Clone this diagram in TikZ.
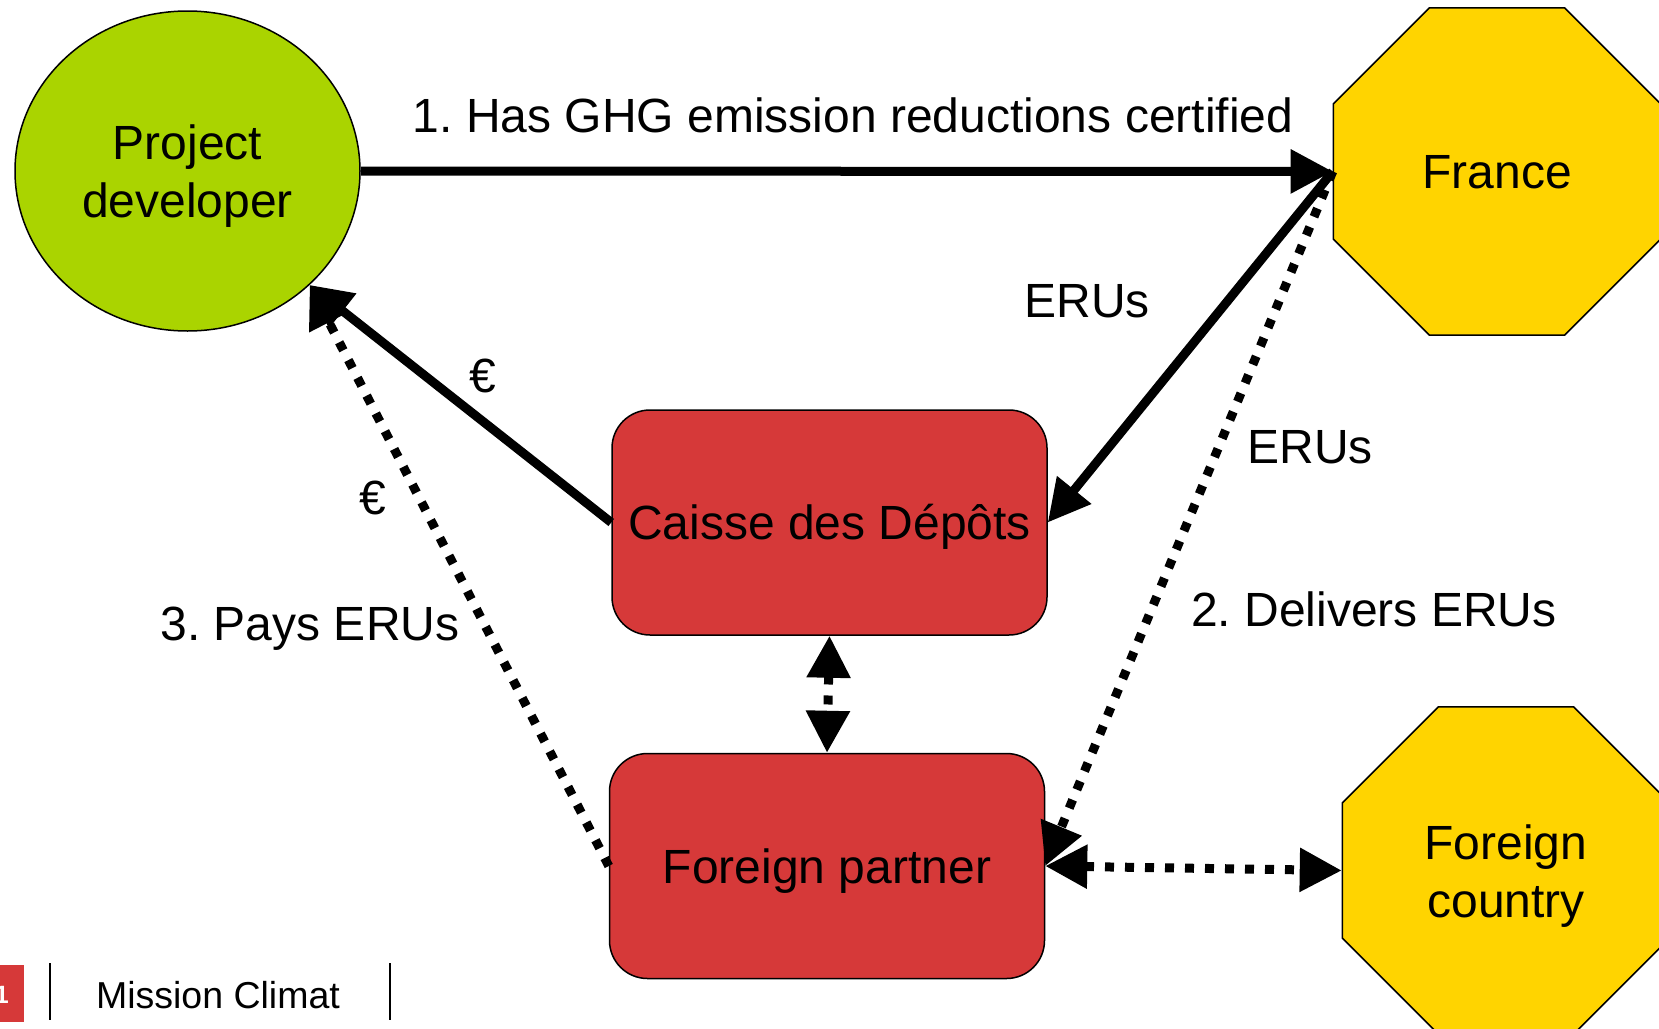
\documentclass[tikz,border=0pt]{standalone}
\usepackage{fontspec}
\setmainfont{Liberation Sans}
\usetikzlibrary{shapes.geometric, arrows.meta, positioning}
\frenchspacing

\definecolor{devgreen}{RGB}{170,212,0}
\definecolor{stategold}{RGB}{255,212,0}
\definecolor{bankred}{RGB}{214,57,57}

\tikzset{
x=1pt, y=-1pt, % one unit is one pixel of the slide, y runs down
>={Triangle[length=42pt, width=42pt]}, % big filled arrow heads
every node/.style={font=\fontsize{48}{58}\selectfont}, % slide text size
capline/.style={text height=34.4pt, text depth=0pt}, % centre one line on its capitals
actor/.style={ellipse, draw, line width=1.5pt, fill=devgreen, minimum width=345pt, minimum height=320pt, align=center},
country/.style={regular polygon, regular polygon sides=8, draw, line width=1.5pt, fill=stategold, minimum size=354pt, inner sep=0pt, align=center},
office/.style={rectangle, rounded corners=38pt, draw, line width=1.5pt, fill=bankred, minimum width=435pt, minimum height=225pt, capline},
flow/.style={->, line width=9pt}, % money and certificates
dotflow/.style={->, line width=9pt, dash pattern=on 9pt off 11pt}, % second route
tag/.style={anchor=base, inner sep=0pt}, % text sitting next to an arrow
}

\begin{document}
\begin{tikzpicture}
    \clip (0,0) rectangle (1659,1028);
    \node[actor] (pd) at (187.5,171) {\rule{0pt}{44pt}Project\\developer};
    \node[country, capline] (fr) at (1497,171.5) {France};
    \node[office] (cdc) at (829.5,522.5) {Caisse des Dépôts};
    \node[office, below=117pt of cdc, xshift=-2.5pt] (fp) {Foreign partner};
    \node[country] (fc) at (1506,870.5) {\rule{0pt}{46pt}Foreign\\country};
    \draw
    (pd) edge[flow] (fr)
    (fr.west) edge[flow] (cdc.east)
    (fr.west) edge[dotflow] (fp.east)
    (cdc.west) edge[flow] (pd.-43)
    (fp.west) edge[dotflow] (pd.-43)
    (cdc.south) edge[dotflow, <->] (fp.north)
    (fp.east) edge[dotflow, <->] (fc.west);
    \node[tag] (lcert) at (853,132) {1. Has GHG emission reductions certified};
    \node[tag] (leru1) at (1087,317) {ERUs};
    \node[tag] (leru2) at (1310,463) {ERUs};
    \node[tag] (leur1) at (483,392) {€};
    \node[tag] (leur2) at (373,514) {€};
    \node[tag] (ldeliv) at (1374,626) {2. Delivers ERUs};
    \node[tag] (lpays) at (310,640) {3. Pays ERUs};
    % footer of the slide
    \fill[bankred] (-20,965) rectangle (24,1022);
    \node[anchor=base east, inner sep=0pt, text=white, font=\fontsize{25}{30}\selectfont\bfseries] (pageno) at (9,1003) {1};
    \draw[line width=2pt] (50,963) -- (50,1020);
    \draw[line width=2pt] (390,963) -- (390,1020);
    \node[tag, font=\fontsize{37.5}{44}\selectfont] (footer) at (218,1008) {Mission Climat};
\end{tikzpicture}
\end{document}
